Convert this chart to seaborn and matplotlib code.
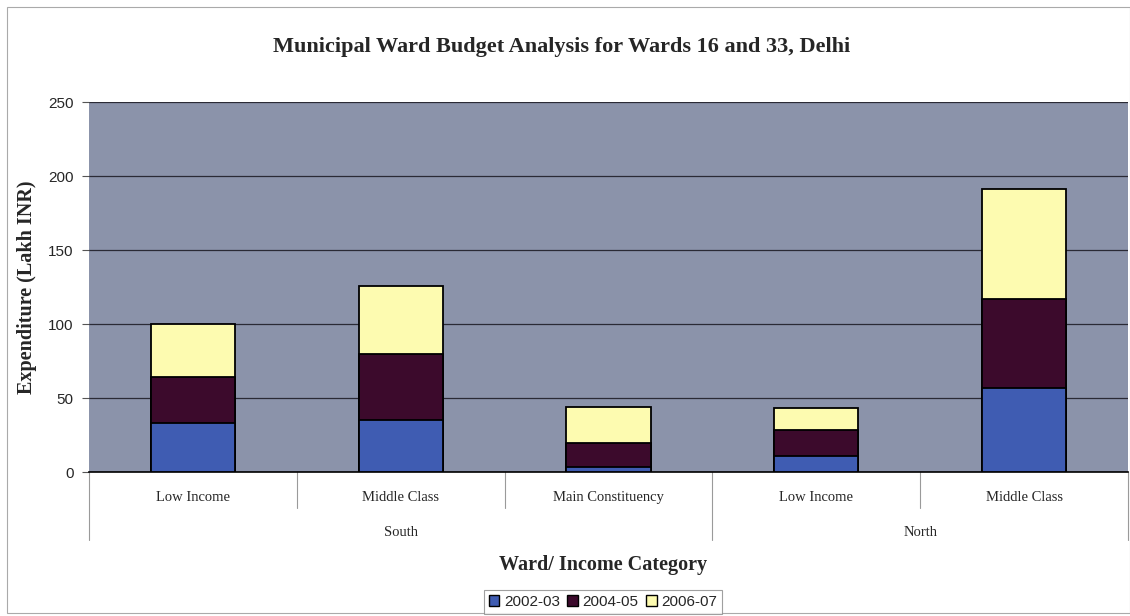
import numpy as np
import pandas as pd
import matplotlib
matplotlib.use("Agg")
import matplotlib.pyplot as plt
import matplotlib.transforms as mtransforms
from matplotlib.patches import Rectangle, Patch
import seaborn as sns

# ---- data ----
categories = ["Low Income", "Middle Class", "Main Constituency", "Low Income", "Middle Class"]
groups = ["South", "South", "South", "North", "North"]
group_names = ["South", "North"]
series = ["2002-03", "2004-05", "2006-07"]
v_2002 = [33, 35, 3.5, 11, 57]
v_2004 = [31, 45, 16, 17.5, 60]
v_2006 = [36, 46, 24.5, 15, 74]
yticks = [0, 50, 100, 150, 200, 250]

colors = {"2002-03": "#3f5cb2", "2004-05": "#3c0a2c", "2006-07": "#fdfbb0"}
bg = "#8b93aa"

sns.set_theme(style="white")
plt.rcParams["font.family"] = ["Liberation Serif", "DejaVu Serif"]

fig = plt.figure(figsize=(11.30, 6.16), dpi=100)
fig.patch.set_facecolor("white")
ax = fig.add_axes([89/1130, 1 - 472/616, 1039/1130, 370/616])
ax.set_facecolor(bg)

slots = [f"{g}|{c}|{i}" for i, (g, c) in enumerate(zip(groups, categories))]
cum1 = np.array(v_2002, dtype=float)
cum2 = cum1 + np.array(v_2004)
cum3 = cum2 + np.array(v_2006)
df = pd.DataFrame({"slot": slots, "c1": cum1, "c2": cum2, "c3": cum3})

for col, s in [("c3", "2006-07"), ("c2", "2004-05"), ("c1", "2002-03")]:
    sns.barplot(data=df, x="slot", y=col, order=slots, color=colors[s],
                width=0.405, edgecolor="black", linewidth=1.3, saturation=1,
                ax=ax, zorder=3)

ax.set_ylim(0, 250)
ax.set_xlim(-0.5, 4.5)
ax.set_yticks(yticks)
ax.set_yticklabels([str(t) for t in yticks], family=["Liberation Sans"], fontsize=11)
ax.yaxis.grid(True, color="#2a2a35", linewidth=0.9, zorder=0)
ax.set_axisbelow(True)
ax.tick_params(axis="y", length=5, width=0.8, color="#555555", pad=6, left=True)
ax.set_xticks(range(len(categories)))
ax.set_xticklabels(categories, fontsize=10.5)
ax.tick_params(axis="x", length=0, pad=14)
for sp in ["top", "right", "left"]:
    ax.spines[sp].set_visible(False)
ax.spines["bottom"].set_color("black")
ax.spines["bottom"].set_linewidth(1.2)
ax.set_xlabel("")
ax.set_ylabel("Expenditure (Lakh INR)", fontsize=14.5, fontweight="bold", labelpad=8)

# category divider lines and group lines below the axis
trans = mtransforms.blended_transform_factory(ax.transData, ax.transAxes)
short = -36/370
long = -68/370
for xb in [0.5, 1.5, 3.5]:
    ax.plot([xb, xb], [0, short], transform=trans, color="#9a9a9a", lw=0.8, clip_on=False)
for xb in [-0.5, 2.5, 4.5]:
    ax.plot([xb, xb], [0, long], transform=trans, color="#9a9a9a", lw=0.8, clip_on=False)

# group labels
for gname in group_names:
    idx = [i for i, g in enumerate(groups) if g == gname]
    xc = (min(idx) - 0.5 + max(idx) + 0.5) / 2
    ax.text(xc, -60/370, gname, transform=trans, ha="center", va="center", fontsize=10.5)

fig.text(0.534, 1 - 565/616, "Ward/ Income Category", ha="center", va="center",
         fontsize=14.5, fontweight="bold")
fig.text(0.497, 1 - 47/616, "Municipal Ward Budget Analysis for Wards 16 and 33, Delhi",
         ha="center", va="center", fontsize=16, fontweight="bold")

handles = [Patch(facecolor=colors[s], edgecolor="black", linewidth=1.0, label=s) for s in series]
leg = fig.legend(handles=handles, loc="center", bbox_to_anchor=(603/1130, 1 - 602/616),
                 ncol=3, frameon=True, fancybox=False, handlelength=0.7, handleheight=0.7,
                 handletextpad=0.3, columnspacing=0.5, borderpad=0.3,
                 prop={"family": "Liberation Sans", "size": 11})
leg.get_frame().set_edgecolor("#888888")
leg.get_frame().set_linewidth(0.8)

fig.add_artist(Rectangle((7/1130, 1 - 613/616), 1 - 7/1130, (613 - 7)/616,
                         transform=fig.transFigure, fill=False, edgecolor="#aaaaaa",
                         linewidth=0.8))

fig.savefig("out.png", dpi=100)
